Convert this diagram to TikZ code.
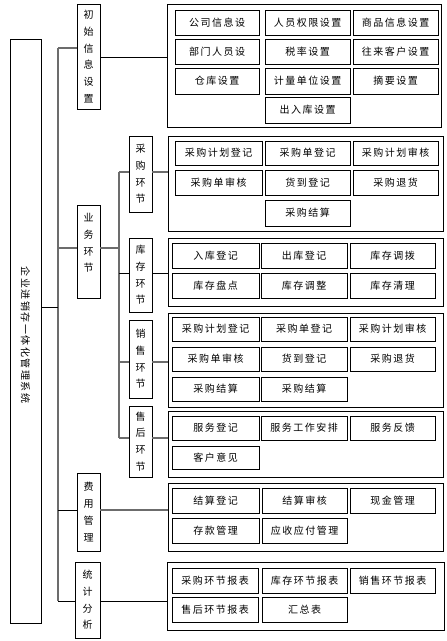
\documentclass[tikz,border=0pt]{standalone}
\usepackage{fontspec}
\newfontfamily\cjk{Noto Sans CJK SC}
\newfontfamily\cjkls[LetterSpace=15]{Noto Sans CJK SC}
\newcommand\mkbox[7]{\node[#1, minimum width={(#5-#3)*1pt}, minimum height={(#6-#4)*1pt}] (#2) at ({(#3+#5)/2},{(#4+#6)/2}) {#7};}
\begin{document}
\begin{tikzpicture}[x=1pt,y=-1pt,
  bx/.style={draw=black, line width=0.8pt, inner sep=0pt},
  item/.style={bx, font=\cjkls\fontsize{10}{12}\selectfont},
  lvl/.style={bx, align=center, font=\cjk\fontsize{10}{16.7}\selectfont},
  vt/.style={inner sep=0pt, align=center, font=\cjk\fontsize{10}{16.7}\selectfont},
  gl/.style={draw=gray!85!black, line width=1.3pt},
  bl/.style={draw=black, line width=0.8pt}]
\useasboundingbox (0,0) rectangle (447,641);
% root
\mkbox{bx}{root}{10}{39}{41}{623}{}
\node[rotate=-90, inner sep=0pt, font=\cjkls\fontsize{10}{12}\selectfont] (roott) at (25.5,335) {企业进销存一体化管理系统};
% level 1
\mkbox{lvl}{L1}{77}{4}{100}{109}{初\\始\\信\\息\\设\\置}
\mkbox{bx}{L2}{77}{205}{100}{298}{}
\node[vt] (L2t) at (88.5,243) {业\\务\\环\\节};
\mkbox{lvl}{L3}{77}{473}{100}{551}{费\\用\\管\\理}
\mkbox{lvl}{L4}{75}{562}{100}{638}{统\\计\\分\\析}
% level 2
\mkbox{lvl}{S1}{129}{136}{152}{212}{采\\购\\环\\节}
\mkbox{lvl}{S2}{129}{238}{152}{312}{库\\存\\环\\节}
\mkbox{lvl}{S3}{129}{320}{152}{398}{销\\售\\环\\节}
\mkbox{lvl}{S4}{129}{406}{152}{477}{售\\后\\环\\节}
% groups
\mkbox{bx}{G1}{167}{4}{441}{127}{}
\mkbox{bx}{G2}{168}{136}{443}{231}{}
\mkbox{bx}{G3}{168}{238}{443}{306}{}
\mkbox{bx}{G4}{168}{313}{443}{407}{}
\mkbox{bx}{G5}{168}{411}{443}{477}{}
\mkbox{bx}{G6}{168}{483}{443}{551}{}
\mkbox{bx}{G7}{167}{562}{444}{630}{}
% group 1 items
\mkbox{item}{a11}{175}{10}{259}{35}{公司信息设}
\mkbox{item}{a12}{265}{10}{350}{35}{人员权限设置}
\mkbox{item}{a13}{353}{10}{438}{35}{商品信息设置}
\mkbox{item}{a21}{175}{39}{259}{64}{部门人员设}
\mkbox{item}{a22}{265}{39}{350}{64}{税率设置}
\mkbox{item}{a23}{353}{39}{438}{64}{往来客户设置}
\mkbox{item}{a31}{175}{68}{259}{94}{仓库设置}
\mkbox{item}{a32}{265}{68}{350}{94}{计量单位设置}
\mkbox{item}{a33}{353}{68}{438}{94}{摘要设置}
\mkbox{item}{a42}{265}{97}{350}{123}{出入库设置}
% group 2 items
\mkbox{item}{b11}{175}{141}{262}{165}{采购计划登记}
\mkbox{item}{b12}{265}{141}{350}{165}{采购单登记}
\mkbox{item}{b13}{353}{141}{438}{165}{采购计划审核}
\mkbox{item}{b21}{175}{170}{262}{195}{采购单审核}
\mkbox{item}{b22}{265}{170}{350}{195}{货到登记}
\mkbox{item}{b23}{353}{170}{438}{195}{采购退货}
\mkbox{item}{b32}{265}{200}{350}{226}{采购结算}
% group 3 items
\mkbox{item}{c11}{172}{243}{259}{268}{入库登记}
\mkbox{item}{c12}{261}{243}{347}{268}{出库登记}
\mkbox{item}{c13}{350}{243}{435}{268}{库存调拨}
\mkbox{item}{c21}{172}{273}{259}{298}{库存盘点}
\mkbox{item}{c22}{261}{273}{347}{298}{库存调整}
\mkbox{item}{c23}{350}{273}{435}{298}{库存清理}
% group 4 items
\mkbox{item}{d11}{172}{317}{259}{341}{采购计划登记}
\mkbox{item}{d12}{261}{317}{347}{341}{采购单登记}
\mkbox{item}{d13}{350}{317}{435}{341}{采购计划审核}
\mkbox{item}{d21}{172}{347}{259}{371}{采购单审核}
\mkbox{item}{d22}{261}{347}{347}{371}{货到登记}
\mkbox{item}{d23}{350}{347}{435}{371}{采购退货}
\mkbox{item}{d31}{172}{377}{259}{401}{采购结算}
\mkbox{item}{d32}{261}{377}{347}{401}{采购结算}
% group 5 items
\mkbox{item}{e11}{172}{416}{259}{440}{服务登记}
\mkbox{item}{e12}{261}{416}{347}{440}{服务工作安排}
\mkbox{item}{e13}{350}{416}{435}{440}{服务反馈}
\mkbox{item}{e21}{172}{446}{259}{469}{客户意见}
% group 6 items
\mkbox{item}{f11}{172}{488}{259}{513}{结算登记}
\mkbox{item}{f12}{262}{488}{347}{513}{结算审核}
\mkbox{item}{f13}{350}{488}{435}{513}{现金管理}
\mkbox{item}{f21}{172}{518}{259}{543}{存款管理}
\mkbox{item}{f22}{262}{518}{347}{543}{应收应付管理}
% group 7 items
\mkbox{item}{g11}{172}{568}{258}{593}{采购环节报表}
\mkbox{item}{g12}{262}{568}{347}{593}{库存环节报表}
\mkbox{item}{g13}{350}{568}{435}{593}{销售环节报表}
\mkbox{item}{g21}{172}{597}{258}{622}{售后环节报表}
\mkbox{item}{g22}{262}{597}{347}{622}{汇总表}
% trunks
\coordinate (tTop) at (58,48);
\coordinate (tBot) at (58,601);
\coordinate (tRoot) at (58,307);
\coordinate (tL2) at (58,248);
\coordinate (tL3) at (58,510);
\coordinate (sTop) at (119,172);
\coordinate (sBot) at (119,438);
\coordinate (sL2) at (119,248);
\coordinate (sS2) at (119,273);
\coordinate (sS3) at (119,362);
\draw[gl] (tTop) -- (tBot);
\draw[bl] (root.east |- tRoot) -- (tRoot);
\draw[gl] (tTop) -- (L1.west |- tTop);
\draw[gl] (tL2) -- (L2.west |- tL2);
\draw[bl] (tL3) -- (L3.west |- tL3);
\draw[bl] (tBot) -- (L4.west |- tBot);
\draw[bl] (L1.east |- 0,57) -- (G1.west |- 0,57);
\draw[gl] (L2.east |- sL2) -- (sL2);
\draw[gl] (L3.east |- tL3) -- (G6.west |- tL3);
\draw[bl] (L4.east |- tBot) -- (G7.west |- tBot);
\draw[gl] (sTop) -- (sBot);
\draw[gl] (sTop) -- (S1.west |- sTop);
\draw[gl] (S1.east |- sTop) -- (G2.west |- sTop);
\draw[bl] (sS2) -- (S2.west |- sS2);
\draw[bl] (S2.east |- sS2) -- (G3.west |- sS2);
\draw[gl] (sS3) -- (S3.west |- sS3);
\draw[gl] (S3.east |- sS3) -- (G4.west |- sS3);
\draw[gl] (sBot) -- (S4.west |- sBot);
\draw[gl] (S4.east |- sBot) -- (G5.west |- sBot);
\end{tikzpicture}
\end{document}
